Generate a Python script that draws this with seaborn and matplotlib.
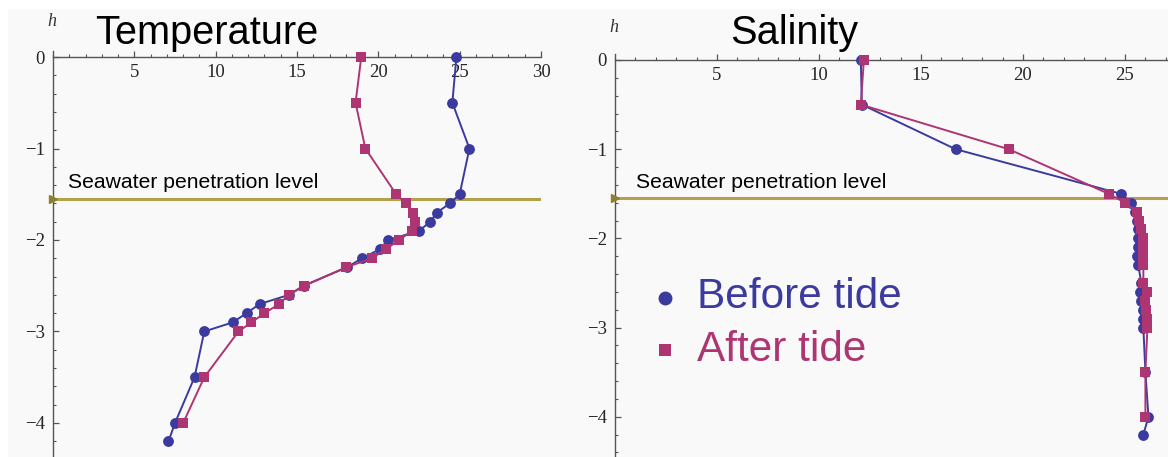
import numpy as np
import pandas as pd
import matplotlib
matplotlib.use("Agg")
import matplotlib.pyplot as plt
import seaborn as sns
from matplotlib.ticker import MultipleLocator, FixedLocator
from matplotlib.patches import Rectangle

# ---------------- data ----------------
series_names = ["Before tide", "After tide"]

temp_h_before = [0, -0.5, -1, -1.5, -1.6, -1.7, -1.8, -1.9, -2.0, -2.1, -2.2, -2.3,
                 -2.5, -2.6, -2.7, -2.8, -2.9, -3.0, -3.5, -4.0, -4.2]
temp_before = [24.8, 24.55, 25.6, 25.0, 24.4, 23.6, 23.2, 22.5, 20.6, 20.1, 19.0, 18.05,
               15.4, 14.5, 12.7, 11.9, 11.05, 9.3, 8.7, 7.5, 7.1]
temp_h_after = [0, -0.5, -1, -1.5, -1.6, -1.7, -1.8, -1.9, -2.0, -2.1, -2.2, -2.3,
                -2.5, -2.6, -2.7, -2.8, -2.9, -3.0, -3.5, -4.0]
temp_after = [18.95, 18.6, 19.2, 21.1, 21.7, 22.15, 22.25, 22.05, 21.3, 20.45, 19.6, 18.0,
              15.45, 14.5, 13.9, 13.0, 12.2, 11.4, 9.3, 8.0]

sal_h_before = [0, -0.5, -1, -1.5, -1.6, -1.7, -1.8, -1.9, -2.0, -2.1, -2.2, -2.3,
                -2.5, -2.6, -2.7, -2.8, -2.9, -3.0, -3.5, -4.0, -4.2]
sal_before = [12.05, 12.1, 16.7, 24.8, 25.3, 25.5, 25.6, 25.65, 25.65, 25.65, 25.6, 25.65,
              25.8, 25.75, 25.8, 25.9, 25.9, 25.9, 26.0, 26.15, 25.9]
sal_h_after = [0, -0.5, -1, -1.5, -1.6, -1.7, -1.8, -1.9, -2.0, -2.1, -2.2, -2.3,
               -2.5, -2.6, -2.7, -2.8, -2.9, -3.0, -3.5, -4.0]
sal_after = [12.2, 12.05, 19.3, 24.2, 25.0, 25.6, 25.7, 25.8, 25.9, 25.9, 25.9, 25.9,
             25.9, 26.1, 26.0, 26.05, 26.1, 26.1, 26.0, 26.0]

seawater_level = -1.55
panel_titles = ["Temperature", "Salinity"]
level_label = "Seawater penetration level"
temp_xticks = [5, 10, 15, 20, 25, 30]
sal_xticks = [5, 10, 15, 20, 25]
yticks = [0, -1, -2, -3, -4]

# ---------------- style ----------------
sns.set_theme(style="white")
plt.rcParams["font.family"] = ["Liberation Sans", "DejaVu Sans"]

BLUE = "#3b3b9f"
MAG = "#ad3571"
OLIVE = "#b3a24c"
palette = {"Before tide": BLUE, "After tide": MAG}
markers = {"Before tide": "o", "After tide": "s"}

W, H = 1168, 457
fig = plt.figure(figsize=(W / 100, H / 100), dpi=100)
fig.patch.set_facecolor("white")
fig.patches.append(Rectangle((8 / W, 0), 1, 1 - 9 / H, transform=fig.transFigure,
                             facecolor="#f9f9f9", edgecolor="none", zorder=-10))


def make_df(x1, h1, x2, h2):
    return pd.DataFrame({
        "x": list(x1) + list(x2),
        "h": list(h1) + list(h2),
        "series": [series_names[0]] * len(x1) + [series_names[1]] * len(x2),
    })


def setup_axis(ax, xmax, ytop, ybot, xticks):
    ax.set_facecolor("none")
    ax.set_xlim(0, xmax)
    ax.set_ylim(ybot, ytop)
    for s in ["top", "right"]:
        ax.spines[s].set_visible(False)
    ax.spines["bottom"].set_position(("data", 0))
    ax.spines["left"].set_position(("data", 0))
    ax.spines["bottom"].set_bounds(0, min(xmax, 30))
    ax.spines["left"].set_bounds(ybot, 0.07)
    for s in ["bottom", "left"]:
        ax.spines[s].set_color("#555555")
        ax.spines[s].set_linewidth(1.0)
    ax.set_xticks(xticks)
    ax.set_yticks(yticks)
    ax.set_yticklabels([f"{v}" if v == 0 else f"\u2212{abs(v)}" for v in yticks])
    ax.xaxis.set_minor_locator(MultipleLocator(1))
    minor_y = [v for v in np.arange(0, ybot - 0.001, -0.2)]
    ax.yaxis.set_minor_locator(FixedLocator(minor_y))
    ax.tick_params(axis="both", which="major", direction="in", length=4.5, width=0.9,
                   color="#555555", labelsize=13.5, bottom=True, left=True)
    ax.tick_params(axis="both", which="minor", direction="in", length=2.2, width=0.8,
                   color="#555555", bottom=True, left=True)
    ax.tick_params(axis="x", pad=5)
    ax.tick_params(axis="y", pad=6)
    for lab in ax.get_xticklabels() + ax.get_yticklabels():
        lab.set_fontfamily("Liberation Serif")
    ax.set_xlabel("")
    ax.set_ylabel("")


def draw(ax, df):
    sns.lineplot(data=df, x="x", y="h", hue="series", style="series",
                 palette=palette, markers=markers, dashes=False, sort=False,
                 estimator=None, legend=False, ax=ax, linewidth=1.4,
                 markersize=7.8, markeredgewidth=0, zorder=5)
    ax.axhline(seawater_level, color=OLIVE, linewidth=2.2, zorder=3)
    ax.plot([0], [seawater_level], marker=">", color="#8f8030", markersize=6,
            clip_on=False, zorder=4)


# left panel: Temperature
ax1 = fig.add_axes([53 / W, 0, (541 - 53) / W, 1 - 10 / H])
draw(ax1, make_df(temp_before, temp_h_before, temp_after, temp_h_after))
setup_axis(ax1, 30, (57 - 10) / 91.5, -(457 - 57) / 91.5, temp_xticks)

# right panel: Salinity
ax2 = fig.add_axes([615 / W, 0, (W - 615) / W, 1 - 10 / H])
draw(ax2, make_df(sal_before, sal_h_before, sal_after, sal_h_after))
setup_axis(ax2, (W - 615) / 20.4, (60 - 10) / 89.2, -(457 - 60) / 89.2, sal_xticks)

# titles and labels
fig.text(95 / W, 1 - 33 / H, panel_titles[0], fontsize=28.6, va="center", ha="left", color="black")
fig.text(730 / W, 1 - 33 / H, panel_titles[1], fontsize=28.6, va="center", ha="left", color="black")
fig.text(52 / W, 1 - 22 / H, "h", fontsize=13, style="italic", family="Liberation Serif",
         ha="center", va="center", color="#333333")
fig.text(614 / W, 1 - 27 / H, "h", fontsize=13, style="italic", family="Liberation Serif",
         ha="center", va="center", color="#333333")
fig.text(68 / W, 1 - 182 / H, level_label, fontsize=15.2, va="center", ha="left", color="black")
fig.text(636 / W, 1 - 182 / H, level_label, fontsize=15.2, va="center", ha="left", color="black")

# legend (manual, as in the reference)
fig.text(697 / W, 1 - 297 / H, series_names[0], fontsize=30.4, color=BLUE, va="center", ha="left")
fig.text(697 / W, 1 - 350 / H, series_names[1], fontsize=30.4, color=MAG, va="center", ha="left")
fig.lines.append(plt.Line2D([665 / W], [1 - 298 / H], marker="o", color=BLUE, markersize=10,
                            markeredgewidth=0, transform=fig.transFigure))
fig.lines.append(plt.Line2D([665 / W], [1 - 350 / H], marker="s", color=MAG, markersize=9,
                            markeredgewidth=0, transform=fig.transFigure))

fig.savefig("out.png", dpi=100)
